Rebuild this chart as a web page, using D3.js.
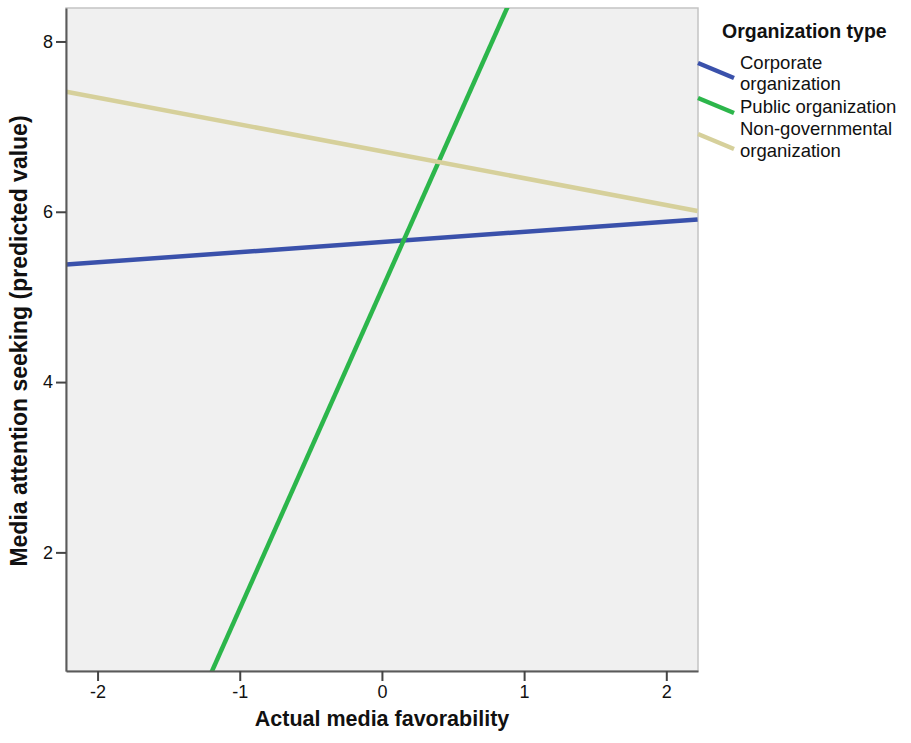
<!DOCTYPE html>
<html>
<head>
<meta charset="utf-8">
<script src="https://cdn.jsdelivr.net/npm/d3@7/dist/d3.min.js"></script>
<style>
  html, body { margin: 0; padding: 0; background: #fff; }
  svg { display: block; font-family: "Liberation Sans", Arial, sans-serif; }
</style>
</head>
<body>
<svg id="chart" width="911" height="743"></svg>
<script>
// Predicted media attention seeking by actual media favorability (fit lines per organization type)
const seriesNames = ["Corporate organization", "Public organization", "Non-governmental organization"];
const legendLabels = [["Corporate", "organization"], ["Public organization"], ["Non-governmental", "organization"]];
const favorability = [-2.22, 2.22];
const corporateValues = [5.38, 5.91];
const publicValues = [-3.24, 13.42];
const ngoValues = [7.41, 6.01];
const xTicks = [-2, -1, 0, 1, 2];
const yTicks = [2, 4, 6, 8];
const colors = ["#3a51ab", "#2cb64b", "#d6d09b"];

const series = [corporateValues, publicValues, ngoValues].map((vals, i) => ({
  name: seriesNames[i],
  color: colors[i],
  points: favorability.map((x, j) => ({ x, y: vals[j] }))
}));

const svg = d3.select("#chart");
const plot = { left: 66, top: 8, right: 698, bottom: 671 };

const x = d3.scaleLinear().domain([-2.222, 2.223]).range([plot.left, plot.right]);
const y = d3.scaleLinear().domain([0.607, 8.393]).range([plot.bottom, plot.top]);

// plot background and light frame
svg.append("rect")
  .attr("x", plot.left).attr("y", plot.top)
  .attr("width", plot.right - plot.left).attr("height", plot.bottom - plot.top)
  .attr("fill", "#f0f0f0").attr("stroke", "#c4c4c4").attr("stroke-width", 1.5);

svg.append("clipPath").attr("id", "plot-clip")
  .append("rect")
  .attr("x", plot.left).attr("y", plot.top)
  .attr("width", plot.right - plot.left).attr("height", plot.bottom - plot.top);

const line = d3.line().x(d => x(d.x)).y(d => y(d.y));

svg.append("g").attr("clip-path", "url(#plot-clip)")
  .selectAll("path").data(series).join("path")
  .attr("d", d => line(d.points))
  .attr("fill", "none")
  .attr("stroke", d => d.color)
  .attr("stroke-width", 4.5);

// axes
const xAxis = svg.append("g")
  .attr("transform", `translate(0,${plot.bottom})`)
  .call(d3.axisBottom(x).tickValues(xTicks).tickSize(10).tickSizeOuter(0).tickPadding(4)
    .tickFormat(d3.format("d")));
const yAxis = svg.append("g")
  .attr("transform", `translate(${plot.left},0)`)
  .call(d3.axisLeft(y).tickValues(yTicks).tickSize(10).tickSizeOuter(0).tickPadding(3)
    .tickFormat(d3.format("d")));

[xAxis, yAxis].forEach(g => {
  g.attr("font-size", 18).attr("font-family", "'Liberation Sans', Arial, sans-serif");
  g.select(".domain").attr("stroke", "#5a5a5a").attr("stroke-width", 2);
  g.selectAll(".tick line").attr("stroke", "#444").attr("stroke-width", 2);
  g.selectAll(".tick text").attr("fill", "#111");
});
xAxis.selectAll(".tick text").text(d => d < 0 ? "-" + Math.abs(d) : d);

// axis titles
svg.append("text")
  .attr("x", 382).attr("y", 726)
  .attr("text-anchor", "middle")
  .attr("font-size", 21.5).attr("font-weight", "bold").attr("fill", "#111")
  .text("Actual media favorability");

svg.append("text")
  .attr("transform", "translate(27,341) rotate(-90)")
  .attr("text-anchor", "middle")
  .attr("font-size", 23).attr("font-weight", "bold").attr("fill", "#111")
  .text("Media attention seeking (predicted value)");

// legend
const legend = svg.append("g");
legend.append("text")
  .attr("x", 722).attr("y", 38)
  .attr("font-size", 19.5).attr("font-weight", "bold").attr("fill", "#111")
  .text("Organization type");

const legendRows = [
  { y0: 63, lines: [69, 90] },
  { y0: 98, lines: [113] },
  { y0: 134, lines: [135, 157] }
];
series.forEach((s, i) => {
  const r = legendRows[i];
  legend.append("line")
    .attr("x1", 698).attr("y1", r.y0).attr("x2", 734).attr("y2", r.y0 + 15)
    .attr("stroke", s.color).attr("stroke-width", 4.5);
  legendLabels[i].forEach((t, k) => {
    legend.append("text")
      .attr("x", 740).attr("y", r.lines[k])
      .attr("font-size", 18.5).attr("fill", "#111")
      .text(t);
  });
});
</script>
</body>
</html>
